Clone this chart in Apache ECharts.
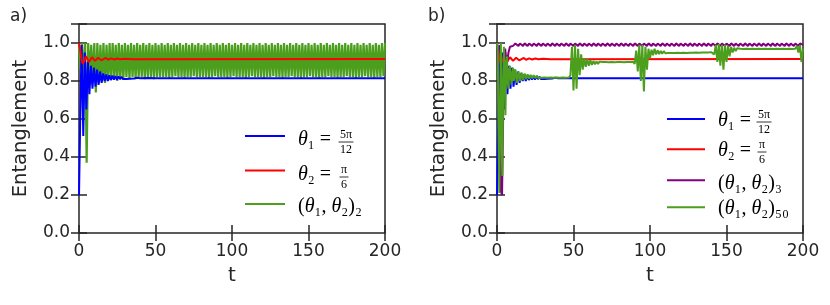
<!DOCTYPE html>
<html><head><meta charset="utf-8">
<script src="https://cdn.jsdelivr.net/npm/echarts@6/dist/echarts.min.js"></script>
<style>html,body{margin:0;padding:0;background:#fff}#c{width:830px;height:305px}</style>
</head><body><div id="c"></div>
<script>
// ---------- tick labels ----------
const xTicks = [0, 50, 100, 150, 200];
const yTicks = [0.0, 0.2, 0.4, 0.6, 0.8, 1.0];

// ---------- shared curves (theta1 = 5pi/12 , theta2 = pi/6) ----------
const blueT = [0,1,1.7,2.8,3.8,4.8,5.8,6.8,7.8,8.8,9.8,10.8,11.8,12.8,13.8,14.8,15.8,16.8,17.8,18.8,19.8,20.8,21.8,22.8,23.8,24.8,25.8,26.8,27.8,28.8,29.8,31,32,33,34,36,38,40,45,50,200];
const blueV = [0.20,0.70,0.99,0.51,0.95,0.65,0.90,0.73,0.88,0.76,0.87,0.77,0.86,0.78,0.85,0.79,0.84,0.80,0.835,0.80,0.83,0.805,0.828,0.807,0.826,0.808,0.824,0.81,0.822,0.81,0.82,0.811,0.819,0.812,0.818,0.813,0.817,0.814,0.816,0.814,0.814];
const redT = [0,0.7,1.5,2.5,3.5,4.5,5.5,6.5,7.5,8.5,9.5,10.5,11.5,12.5,13.5,14.5,16,17.5,19,21,23,25,27,30,35,200];
const redV = [1.0,0.97,0.92,0.89,0.905,0.93,0.92,0.90,0.91,0.925,0.92,0.906,0.912,0.922,0.92,0.909,0.915,0.921,0.912,0.919,0.913,0.918,0.914,0.917,0.915,0.916];

// ---------- panel a: (theta1,theta2)_2, one value per t = 0..200 ----------
const greenA = [
0.98,0.86,1.00,0.80,1.00,0.37,1.00,0.83,0.99,0.80,
1.00,0.74,1.00,0.79,0.99,0.80,1.00,0.79,0.99,0.80,
1.00,0.81,1.00,0.81,0.99,0.80,1.00,0.81,0.99,0.81,
1.00,0.82,0.99,0.81,1.00,0.82,0.99,0.81,1.00,0.82,
0.99,0.82,1.00,0.81,0.99,0.82,1.00,0.82,0.99,0.81,
1.00,0.82,0.99,0.82,1.00,0.82,0.99,0.82,1.00,0.815,
0.99,0.82,1.00,0.825,0.99,0.82,1.00,0.82,0.99,0.815,
1.00,0.82,0.99,0.82,1.00,0.825,0.99,0.82,1.00,0.82,
0.99,0.82,1.00,0.82,0.99,0.815,1.00,0.82,0.99,0.825,
1.00,0.82,0.99,0.82,1.00,0.82,0.99,0.815,1.00,0.82,
0.99,0.825,1.00,0.82,0.99,0.82,1.00,0.82,0.99,0.815,
1.00,0.82,0.99,0.825,1.00,0.82,0.99,0.82,1.00,0.82,
0.99,0.815,1.00,0.82,0.99,0.82,1.00,0.825,0.99,0.82,
1.00,0.82,0.99,0.815,1.00,0.82,0.99,0.82,1.00,0.825,
0.99,0.82,1.00,0.82,0.99,0.815,1.00,0.82,0.99,0.82,
1.00,0.825,0.99,0.82,1.00,0.82,0.99,0.815,1.00,0.82,
0.99,0.82,1.00,0.825,0.99,0.82,1.00,0.82,0.99,0.815,
1.00,0.82,0.99,0.82,1.00,0.825,0.99,0.82,1.00,0.82,
0.99,0.815,1.00,0.82,0.99,0.82,1.00,0.825,0.99,0.82,
1.00,0.82,0.99,0.815,1.00,0.82,0.99,0.82,1.00,0.825,
1.00];

// ---------- panel b: (theta1,theta2)_3 ----------
const purpleEarlyT = [0,0.7,1.5,2.5,3.3,4.0,4.6,5.3,6.0,6.7,7.5,8.5,9.5,10.5,11.5];
const purpleEarlyV = [1.0,0.85,0.55,0.22,0.20,0.60,0.95,0.97,0.92,0.90,0.95,0.98,0.97,0.985,0.98];
const purpleStart = 12; // values below for t = 12..200
const purpleV = [
0.997,0.990,0.984,0.997,0.991,0.984,0.998,0.990,0.985,
0.997,0.990,0.984,0.997,0.991,0.984,0.998,0.990,0.985,
0.997,0.990,0.984,0.997,0.991,0.984,0.998,0.990,0.985,
0.997,0.990,0.984,0.997,0.991,0.984,0.998,0.990,0.985,
0.997,0.990,0.984,0.997,0.991,0.984,0.998,0.990,0.985,
0.997,0.990,0.984,0.997,0.991,0.984,0.998,0.990,0.985,
0.997,0.990,0.984,0.997,0.991,0.984,0.998,0.990,0.985,
0.997,0.990,0.984,0.997,0.991,0.984,0.998,0.990,0.985,
0.997,0.990,0.984,0.997,0.991,0.984,0.998,0.990,0.985,
0.997,0.990,0.984,0.997,0.991,0.984,0.998,0.990,0.985,
0.997,0.990,0.984,0.997,0.991,0.984,0.998,0.990,0.985,
0.997,0.990,0.984,0.997,0.991,0.984,0.998,0.990,0.985,
0.997,0.990,0.984,0.997,0.991,0.984,0.998,0.990,0.985,
0.997,0.990,0.984,0.997,0.991,0.984,0.998,0.990,0.985,
0.997,0.990,0.984,0.997,0.991,0.984,0.998,0.990,0.985,
0.997,0.990,0.984,0.997,0.991,0.984,0.998,0.990,0.985,
0.997,0.990,0.984,0.997,0.991,0.984,0.998,0.990,0.985,
0.997,0.990,0.984,0.997,0.991,0.984,0.998,0.990,0.985,
0.997,0.990,0.984,0.997,0.991,0.984,0.998,0.990,0.985,
0.997,0.990,0.984,0.997,0.991,0.984,0.998,0.990,0.985,
0.997,0.990,0.984,0.997,0.991,0.984,0.998,0.992,0.990];

// ---------- panel b: (theta1,theta2)_50 ----------
const greenBEarlyT = [0,0.5,1,1.5,2,2.5,3,3.5,4,4.5,5,5.5,6,6.5,7,7.5,8,8.5,9,9.5,10,10.5];
const greenBEarlyV = [1.0,0.95,0.55,0.21,0.60,1.0,0.70,0.30,0.75,0.98,0.85,0.62,0.88,0.93,0.80,0.76,0.86,0.88,0.82,0.78,0.84,0.87];
const greenBStart = 11; // values below for t = 11..200
const greenBV = [
0.80,0.86,0.79,0.85,0.80,0.845,0.805,0.84,0.81,0.835,
0.812,0.832,0.814,0.83,0.815,0.828,0.816,0.826,0.817,0.825,
0.818,0.824,0.817,0.824,0.818,0.823,0.817,0.823,0.818,0.822,
0.817,0.823,0.818,0.822,0.817,0.822,0.818,0.83,0.98,0.75,
0.99,0.76,0.97,0.83,0.94,0.86,0.92,0.875,0.915,0.88,
0.91,0.885,0.905,0.888,0.903,0.89,0.902,0.892,0.90,0.893,
0.90,0.894,0.899,0.894,0.90,0.895,0.899,0.895,0.90,0.896,
0.90,0.895,0.899,0.896,0.90,0.897,0.90,0.896,0.901,0.89,
0.96,0.85,0.99,0.80,0.99,0.745,0.98,0.86,0.97,0.92,
0.965,0.935,0.97,0.94,0.962,0.942,0.958,0.944,0.957,0.946,
0.955,0.947,0.954,0.948,0.953,0.948,0.953,0.949,0.953,0.948,
0.953,0.949,0.954,0.948,0.953,0.949,0.954,0.949,0.953,0.95,
0.954,0.949,0.955,0.95,0.954,0.95,0.955,0.95,0.956,0.952,
0.96,0.94,0.99,0.90,0.995,0.88,0.99,0.86,0.99,0.90,
0.985,0.93,0.98,0.95,0.975,0.958,0.972,0.962,0.97,0.964,
0.969,0.965,0.97,0.965,0.969,0.966,0.97,0.965,0.969,0.966,
0.97,0.965,0.969,0.966,0.97,0.966,0.969,0.965,0.97,0.966,
0.969,0.966,0.97,0.965,0.969,0.966,0.97,0.966,0.969,0.966,
0.97,0.965,0.969,0.966,0.97,0.985,0.95,0.99,0.90,0.97];

// ---------- helpers ----------
const zip = (T, V) => T.map((t, i) => [t, V[i]]);
const seq = (start, V) => V.map((v, i) => [start + i, v]);
const C = { blue: '#0000ff', red: '#ff0000', green: '#4c9f1c', purple: '#800080' };
const INK = '#262626';
const SANS = 'DejaVu Sans';
const SERIF = 'Liberation Serif';

const GRIDS = [
  { left: 79, top: 24, width: 306, height: 209 },
  { left: 497, top: 24, width: 306, height: 209 }
];

function isTick(arr, v) { return arr.some(t => Math.abs(t - v) < 1e-9); }
const tickStyle = { show: true, inside: true, length: 8, lineStyle: { color: INK, width: 1.5 } };

const xAxes = [], yAxes = [];
GRIDS.forEach((g, i) => {
  xAxes.push({
    gridIndex: i, type: 'value', position: 'bottom', min: 0, max: 200, interval: 50,
    axisLine: { show: false }, axisTick: tickStyle, splitLine: { show: false },
    axisLabel: { margin: 10, fontSize: 17, fontFamily: SANS, color: INK,
      formatter: v => isTick(xTicks, v) ? String(v) : '' },
    name: 't', nameLocation: 'middle', nameGap: 33,
    nameTextStyle: { fontSize: 20, fontFamily: SANS, color: INK }
  });
  xAxes.push({
    gridIndex: i, type: 'value', position: 'top', min: 0, max: 200, interval: 50,
    axisLine: { show: false }, axisTick: tickStyle, splitLine: { show: false },
    axisLabel: { show: false }
  });
  yAxes.push({
    gridIndex: i, type: 'value', position: 'left', min: 0, max: 1.1, interval: 0.2,
    axisLine: { show: false }, axisTick: tickStyle, splitLine: { show: false },
    axisLabel: { margin: 9, fontSize: 17, fontFamily: SANS, color: INK,
      formatter: v => isTick(yTicks, v) ? v.toFixed(1) : '' },
    name: 'Entanglement', nameLocation: 'middle', nameGap: 48, nameRotate: 90,
    nameTextStyle: { fontSize: 19.5, fontFamily: SANS, color: INK }
  });
  yAxes.push({
    gridIndex: i, type: 'value', position: 'right', min: 0, max: 1.1, interval: 0.2,
    axisLine: { show: false }, axisTick: tickStyle, splitLine: { show: false },
    axisLabel: { show: false }
  });
});

function line(name, data, color, panel, width) {
  return {
    name, type: 'line', data, xAxisIndex: panel * 2, yAxisIndex: panel * 2,
    showSymbol: false, symbol: 'none', smooth: false, animation: false,
    lineStyle: { color, width: width || 2 }, itemStyle: { color }, emphasis: { disabled: true }
  };
}

const series = [
  line('a-green', seq(0, greenA), C.green, 0, 2.2),
  line('a-blue', zip(blueT, blueV), C.blue, 0),
  line('a-red', zip(redT, redV), C.red, 0),
  line('b-blue', zip(blueT, blueV), C.blue, 1),
  line('b-red', zip(redT, redV), C.red, 1),
  line('b-purple', zip(purpleEarlyT, purpleEarlyV).concat(seq(purpleStart, purpleV)), C.purple, 1),
  line('b-green', zip(greenBEarlyT, greenBEarlyV).concat(seq(greenBStart, greenBV)), C.green, 1)
];

// legend swatches
const legendSpec = [
  { name: 'a-blue', left: 245, y: 136, w: 40 },
  { name: 'a-red', left: 245, y: 170.5, w: 40 },
  { name: 'a-green', left: 245, y: 204, w: 40 },
  { name: 'b-blue', left: 667, y: 119, w: 38 },
  { name: 'b-red', left: 667, y: 149.3, w: 38 },
  { name: 'b-purple', left: 667, y: 180.3, w: 38 },
  { name: 'b-green', left: 667, y: 207.3, w: 38 }
];
const legends = legendSpec.map(s => ({
  data: [s.name], left: s.left, top: s.y - 1, padding: 0, itemGap: 0,
  itemWidth: s.w, itemHeight: 2, icon: 'rect', selectedMode: false,
  formatter: () => '', textStyle: { fontSize: 1, lineHeight: 2, padding: 0 }
}));

// legend math labels
const rich = {
  i: { fontFamily: SERIF, fontStyle: 'italic', fontSize: 20, fill: '#000' },
  r: { fontFamily: SERIF, fontSize: 20, fill: '#000' }
};
function mathText(x, y, text) {
  return { type: 'text', x, y, silent: true,
    style: { text, rich, align: 'left', verticalAlign: 'middle', textAlign: 'left', textVerticalAlign: 'middle' } };
}
function frac(cx, barY, num, den, w) {
  const st = (t, y, va) => ({ type: 'text', x: cx, y, silent: true,
    style: { text: t, fontFamily: SERIF, fontSize: 12, fill: '#000', align: 'center', textAlign: 'center',
      verticalAlign: va, textVerticalAlign: va } });
  return [
    st(num, barY - 1, 'bottom'),
    { type: 'line', silent: true, shape: { x1: cx - w / 2, y1: barY, x2: cx + w / 2, y2: barY },
      style: { stroke: '#000', lineWidth: 0.8 } },
    st(den, barY + 1.5, 'top')
  ];
}
const legendLabels = [
  { x: 298, y: 140, t: '{i|θ}{r|₁ = }', f: [346, 142, '5π', '12', 15] },
  { x: 298, y: 175, t: '{i|θ}{r|₂ = }', f: [344, 177, 'π', '6', 9] },
  { x: 298, y: 206.5, t: '{r|(}{i|θ}{r|₁, }{i|θ}{r|₂)₂}' },
  { x: 718, y: 121, t: '{i|θ}{r|₁ = }', f: [764, 122, '5π', '12', 15] },
  { x: 718, y: 151, t: '{i|θ}{r|₂ = }', f: [762, 152, 'π', '6', 9] },
  { x: 718, y: 184, t: '{r|(}{i|θ}{r|₁, }{i|θ}{r|₂)₃}' },
  { x: 718, y: 209, t: '{r|(}{i|θ}{r|₁, }{i|θ}{r|₂)₅₀}' }
];
const graphic = [];
legendLabels.forEach(l => {
  graphic.push(mathText(l.x, l.y, l.t));
  if (l.f) graphic.push(...frac(...l.f));
});
graphic.push({ type: 'text', x: 10, y: 8, silent: true,
  style: { text: 'a)', fontFamily: SANS, fontSize: 17, fill: INK } });
graphic.push({ type: 'text', x: 428, y: 8, silent: true,
  style: { text: 'b)', fontFamily: SANS, fontSize: 17, fill: INK } });

const chart = echarts.init(document.getElementById('c'), null, { renderer: 'canvas' });
chart.setOption({
  animation: false,
  backgroundColor: '#ffffff',
  grid: GRIDS.map(g => Object.assign({ show: true, borderColor: INK, borderWidth: 1.5, backgroundColor: 'transparent' }, g)),
  xAxis: xAxes,
  yAxis: yAxes,
  legend: legends,
  series,
  graphic
});
</script>
</body></html>
